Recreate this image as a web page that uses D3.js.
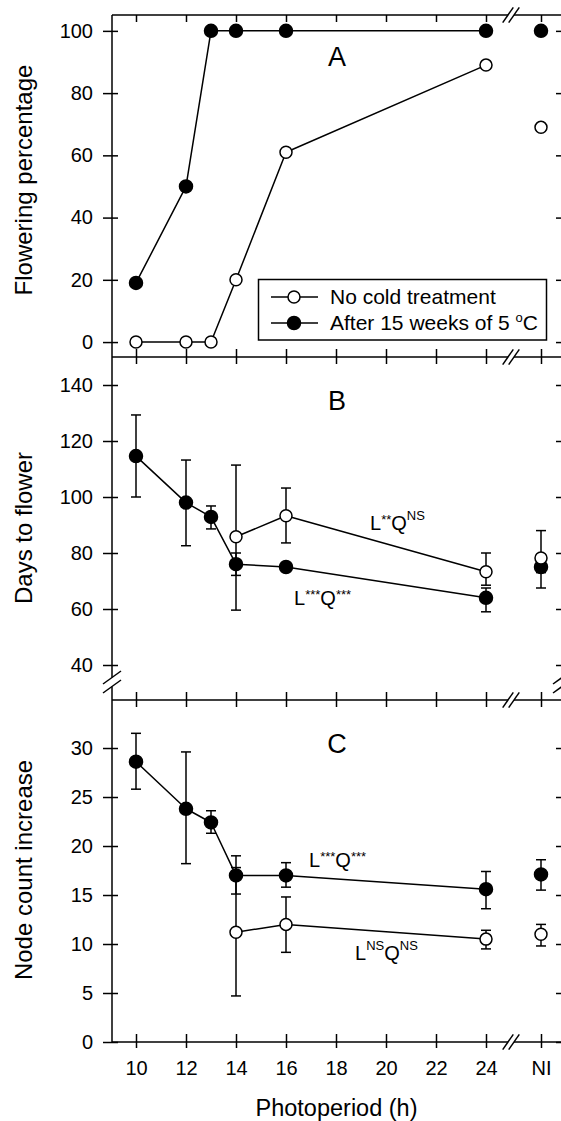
<!DOCTYPE html>
<html>
<head>
<meta charset="utf-8">
<script src="https://cdn.jsdelivr.net/npm/d3@7"></script>
<style>
  body { margin: 0; background: #fff; }
  svg { display: block; }
</style>
</head>
<body>
<div id="chart"></div>
<script>
// x positions (photoperiod, h); NI sits past the axis break
const PHOTOPERIOD = [10, 12, 13, 14, 16, 24];
const PHOTOPERIOD_NOCOLD = [14, 16, 24];
const NI = 26.2;
const X_TICKS = [10, 12, 14, 16, 18, 20, 22, 24, NI];
const X_TICK_LABELS = ['10', '12', '14', '16', '18', '20', '22', '24', 'NI'];

// Panel A: flowering percentage
const A_TICKS = [0, 20, 40, 60, 80, 100];
const A_COLD = [19, 50, 100, 100, 100, 100];
const A_COLD_NI = 100;
const A_NOCOLD = [0, 0, 0, 20, 61, 89];
const A_NOCOLD_NI = 69;

// Panel B: days to flower (mean, lower, upper)
const B_TICKS = [40, 60, 80, 100, 120, 140];
const B_COLD = [114.6, 98, 92.9, 76, 75, 64];
const B_COLD_LO = [100, 82.6, 88.6, 72, 73.5, 59];
const B_COLD_HI = [129.3, 113.2, 96.8, 80, 76.5, 67.5];
const B_COLD_NI = [75, 73, 77];
const B_NOCOLD = [85.8, 93.3, 73.3];
const B_NOCOLD_LO = [59.6, 83.6, 68.5];
const B_NOCOLD_HI = [111.4, 103.2, 80];
const B_NOCOLD_NI = [78.2, 67.5, 88];

// Panel C: node count increase (mean, lower, upper)
const C_TICKS = [0, 5, 10, 15, 20, 25, 30];
const C_COLD = [28.6, 23.8, 22.4, 17.0, 17.0, 15.6];
const C_COLD_LO = [25.8, 18.2, 21.3, 15.1, 15.8, 13.6];
const C_COLD_HI = [31.5, 29.6, 23.6, 19.0, 18.3, 17.4];
const C_COLD_NI = [17.1, 15.5, 18.6];
const C_NOCOLD = [11.2, 12.0, 10.5];
const C_NOCOLD_LO = [4.7, 9.15, 9.5];
const C_NOCOLD_HI = [17.8, 14.8, 11.4];
const C_NOCOLD_NI = [11.0, 9.8, 12.0];

const LEGEND = ['No cold treatment', 'After 15 weeks of 5 '];

const WIDTH = 561;
const HEIGHT = 1121;
const LEFT = 112;
const RIGHT = 562;
const BREAK_X = 511;
const FONT = '"Liberation Sans", Arial, Helvetica, sans-serif';
const SW = 1.5;

function translate(x, y) {
  return `translate(${x}, ${y})`;
}

const svg = d3.select('#chart').append('svg')
  .attr('width', WIDTH)
  .attr('height', HEIGHT)
  .attr('font-family', FONT);

const x = d3.scaleLinear().domain([9.04, 27.04]).range([LEFT, RIGHT]);

const panels = [
  {
    top: 15, bottom: 357, domain: [-4.8, 105.1], ticks: A_TICKS,
    title: 'Flowering percentage', titleY: 180, letter: 'A', letterY: 66,
    cold: {xs: PHOTOPERIOD, ys: A_COLD, ni: [A_COLD_NI]},
    nocold: {xs: PHOTOPERIOD, ys: A_NOCOLD, ni: [A_NOCOLD_NI]},
  },
  {
    top: 357, bottom: 700, domain: [27.5, 150], ticks: B_TICKS,
    title: 'Days to flower', titleY: 528, letter: 'B', letterY: 410, axisBreak: 682,
    cold: {xs: PHOTOPERIOD, ys: B_COLD, lo: B_COLD_LO, hi: B_COLD_HI, ni: B_COLD_NI},
    nocold: {xs: PHOTOPERIOD_NOCOLD, ys: B_NOCOLD, lo: B_NOCOLD_LO, hi: B_NOCOLD_HI, ni: B_NOCOLD_NI},
    notes: [
      {x: 370, y: 530, sup1: '**', sup2: 'NS'},
      {x: 294, y: 605, sup1: '***', sup2: '***'},
    ],
  },
  {
    top: 700, bottom: 1042, domain: [0, 34.9], ticks: C_TICKS,
    title: 'Node count increase', titleY: 870, letter: 'C', letterY: 753,
    cold: {xs: PHOTOPERIOD, ys: C_COLD, lo: C_COLD_LO, hi: C_COLD_HI, ni: C_COLD_NI},
    nocold: {xs: PHOTOPERIOD_NOCOLD, ys: C_NOCOLD, lo: C_NOCOLD_LO, hi: C_NOCOLD_HI, ni: C_NOCOLD_NI},
    notes: [
      {x: 309, y: 867, sup1: '***', sup2: '***'},
      {x: 355, y: 960, sup1: 'NS', sup2: 'NS'},
    ],
  },
];

function styleTicks(g) {
  g.select('.domain').remove();
  g.selectAll('.tick line').attr('stroke-width', SW);
  g.attr('font-family', FONT).attr('font-size', 20);
}

function slash(g, cx, cy, dx, dy) {
  g.append('line')
    .attr('x1', cx - dx).attr('y1', cy + dy)
    .attr('x2', cx + dx).attr('y2', cy - dy)
    .attr('stroke', 'black').attr('stroke-width', SW);
}

// horizontal frame line with the // break
function hLine(y) {
  const g = svg.append('g');
  g.append('line').attr('x1', LEFT).attr('x2', BREAK_X - 3).attr('y1', y).attr('y2', y);
  g.append('line').attr('x1', BREAK_X + 3).attr('x2', RIGHT).attr('y1', y).attr('y2', y);
  g.selectAll('line').attr('stroke', 'black').attr('stroke-width', SW);
  slash(g, BREAK_X - 3, y, 5.3, 7.6);
  slash(g, BREAK_X + 3, y, 5.3, 7.6);
}

function vLine(xPos, y1, y2, breakY) {
  const g = svg.append('g');
  if (breakY) {
    g.append('line').attr('x1', xPos).attr('x2', xPos).attr('y1', y1).attr('y2', breakY - 4.5);
    g.append('line').attr('x1', xPos).attr('x2', xPos).attr('y1', breakY + 4.5).attr('y2', y2);
  } else {
    g.append('line').attr('x1', xPos).attr('x2', xPos).attr('y1', y1).attr('y2', y2);
  }
  g.selectAll('line').attr('stroke', 'black').attr('stroke-width', SW);
  if (breakY) {
    slash(g, xPos, breakY - 4.5, 9, 6.5);
    slash(g, xPos, breakY + 4.5, 9, 6.5);
  }
}

function drawSeries(layer, y, s, filled) {
  const pts = s.xs.map((xv, i) => ({x: xv, y: s.ys[i], lo: s.lo ? s.lo[i] : null, hi: s.hi ? s.hi[i] : null}));
  const ni = {x: NI, y: s.ni[0], lo: s.ni.length > 1 ? s.ni[1] : null, hi: s.ni.length > 1 ? s.ni[2] : null};
  const all = [...pts, ni];

  // error bars
  all.filter(d => d.lo !== null).forEach(d => {
    const cx = x(d.x);
    layer.errors.append('line')
      .attr('x1', cx).attr('x2', cx).attr('y1', y(d.lo)).attr('y2', y(d.hi));
    [d.lo, d.hi].forEach(v => {
      layer.errors.append('line')
        .attr('x1', cx - 5).attr('x2', cx + 5).attr('y1', y(v)).attr('y2', y(v));
    });
  });

  const line = d3.line().x(d => x(d.x)).y(d => y(d.y));
  layer.lines.append('path')
    .datum(pts)
    .attr('fill', 'none')
    .attr('stroke', 'black')
    .attr('stroke-width', SW)
    .attr('stroke-linejoin', 'round')
    .attr('d', line);

  const target = filled ? layer.filled : layer.open;
  target.selectAll(null).data(all).join('circle')
    .attr('cx', d => x(d.x))
    .attr('cy', d => y(d.y))
    .attr('r', filled ? 6.5 : 6)
    .attr('fill', filled ? 'black' : 'white')
    .attr('stroke', 'black')
    .attr('stroke-width', SW);
}

function drawNote(n) {
  const t = svg.append('text')
    .attr('x', n.x).attr('y', n.y)
    .attr('font-size', 20)
    .attr('fill', 'black');
  const supDy = s => (s.includes('*') ? -6 : -10);
  t.append('tspan').text('L');
  t.append('tspan').attr('font-size', 13).attr('dy', supDy(n.sup1)).text(n.sup1);
  t.append('tspan').attr('dy', -supDy(n.sup1)).text('Q');
  t.append('tspan').attr('font-size', 13).attr('dy', supDy(n.sup2)).text(n.sup2);
}

for (const p of panels) {
  const y = d3.scaleLinear().domain(p.domain).range([p.bottom, p.top]);

  // left ticks with labels (outside) and inner ticks
  const left = svg.append('g').attr('transform', translate(LEFT, 0))
    .call(d3.axisLeft(y).tickValues(p.ticks).tickSize(9).tickPadding(10));
  styleTicks(left);
  const leftIn = svg.append('g').attr('transform', translate(LEFT, 0))
    .call(d3.axisRight(y).tickValues(p.ticks).tickSize(6).tickFormat(''));
  styleTicks(leftIn);

  // right ticks, inward
  const right = svg.append('g').attr('transform', translate(RIGHT, 0))
    .call(d3.axisLeft(y).tickValues(p.ticks).tickSize(6).tickFormat(''));
  styleTicks(right);

  // x ticks on top and bottom edges, inward
  const topT = svg.append('g').attr('transform', translate(0, p.top))
    .call(d3.axisBottom(x).tickValues(X_TICKS).tickSize(7).tickFormat(''));
  styleTicks(topT);
  const botT = svg.append('g').attr('transform', translate(0, p.bottom))
    .call(d3.axisTop(x).tickValues(X_TICKS).tickSize(8).tickFormat(''));
  styleTicks(botT);

  vLine(LEFT, p.top, p.bottom, p.axisBreak);
  vLine(RIGHT, p.top, p.bottom, p.axisBreak);

  // y title
  svg.append('text')
    .attr('transform', `${translate(32, p.titleY)} rotate(-90)`)
    .attr('text-anchor', 'middle')
    .attr('font-size', 24)
    .text(p.title);

  // panel letter
  svg.append('text')
    .attr('x', 337).attr('y', p.letterY)
    .attr('text-anchor', 'middle')
    .attr('font-size', 27)
    .text(p.letter);

  const layer = {
    errors: svg.append('g').attr('stroke', 'black').attr('stroke-width', SW),
    lines: svg.append('g'),
    filled: svg.append('g'),
    open: svg.append('g'),
  };
  drawSeries(layer, y, p.cold, true);
  drawSeries(layer, y, p.nocold, false);

  (p.notes || []).forEach(drawNote);
}

[15, 357, 700, 1042].forEach(hLine);

// bottom axis labels
const xAxis = svg.append('g').attr('transform', translate(0, 1042))
  .call(d3.axisBottom(x).tickValues(X_TICKS).tickSize(6).tickPadding(13)
    .tickFormat((d, i) => X_TICK_LABELS[i]));
styleTicks(xAxis);

svg.append('text')
  .attr('x', 336.5).attr('y', 1116)
  .attr('text-anchor', 'middle')
  .attr('font-size', 23.5)
  .text('Photoperiod (h)');

// Legend
const legend = svg.append('g');
legend.append('rect')
  .attr('x', 258.5).attr('y', 279.5)
  .attr('width', 288).attr('height', 60.5)
  .attr('fill', 'white')
  .attr('stroke', 'black')
  .attr('stroke-width', SW);

LEGEND.forEach((label, i) => {
  const ly = 297 + i * 26;
  const filled = i === 1;
  legend.append('line')
    .attr('x1', 271).attr('x2', 318).attr('y1', ly).attr('y2', ly)
    .attr('stroke', 'black').attr('stroke-width', SW);
  legend.append('circle')
    .attr('cx', 294).attr('cy', ly)
    .attr('r', filled ? 6.5 : 6)
    .attr('fill', filled ? 'black' : 'white')
    .attr('stroke', 'black').attr('stroke-width', SW);
  const t = legend.append('text')
    .attr('x', 330).attr('y', ly + 7)
    .attr('font-size', 21)
    .attr('xml:space', 'preserve');
  t.append('tspan').text(label);
  if (filled) {
    t.append('tspan').attr('font-size', 13).attr('dy', -8).text('o');
    t.append('tspan').attr('dy', 8).text('C');
  }
});
</script>
</body>
</html>
